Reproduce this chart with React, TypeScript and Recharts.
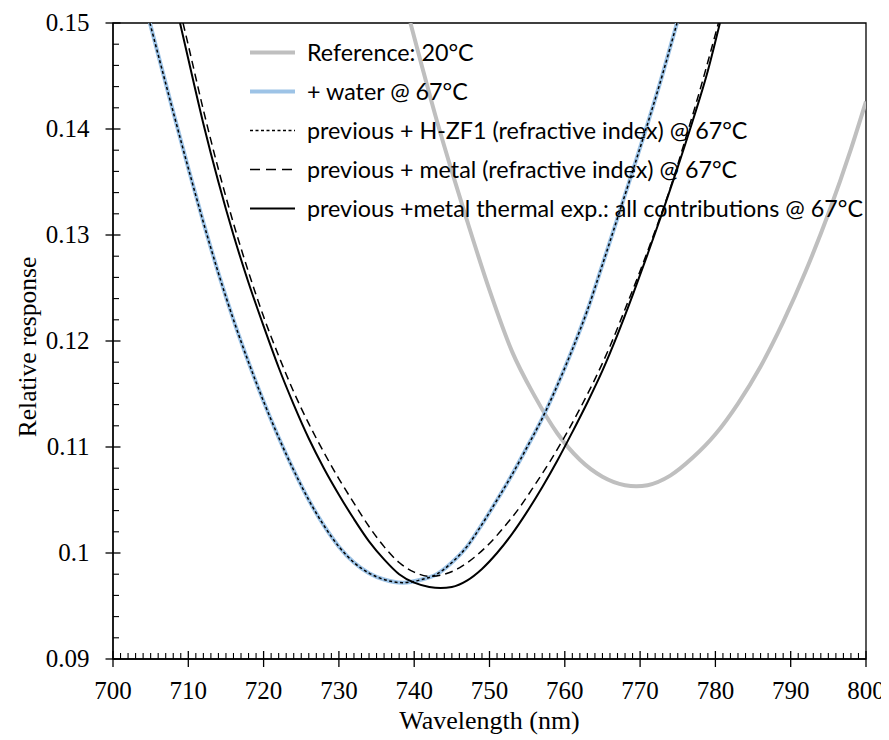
import React from 'react';
import { LineChart, Line, XAxis, YAxis, ReferenceArea, Legend } from 'recharts';

// ---- Data ----
const refWl = [739.5, 741, 743, 745, 747, 750, 753, 756, 759, 762, 765, 768, 769.5, 771, 774, 777, 780, 783, 786, 789, 792, 795, 798, 800];
const refVal = [0.15, 0.146, 0.1408, 0.136, 0.1314, 0.1248, 0.119, 0.1148, 0.1113, 0.1088, 0.1072, 0.1064, 0.1063, 0.1064, 0.1073, 0.109, 0.1112, 0.1141, 0.1176, 0.1218, 0.1266, 0.132, 0.1381, 0.1426];

const waterWl = [704.9, 706, 708, 710, 712, 714, 716, 718, 720, 722, 724, 726, 728, 730, 732, 734, 736, 738.5, 741, 743, 745, 747, 749, 751, 753, 755, 757, 759, 761, 763, 765, 767, 769, 771, 773, 774.9];
const waterVal = [0.15, 0.147, 0.1416, 0.1363, 0.1312, 0.1264, 0.122, 0.118, 0.1143, 0.1109, 0.1078, 0.105, 0.1026, 0.1006, 0.0991, 0.0981, 0.0975, 0.0972, 0.0975, 0.098, 0.0991, 0.1006, 0.1027, 0.105, 0.1074, 0.11, 0.1127, 0.1158, 0.1192, 0.1229, 0.1272, 0.1316, 0.136, 0.1405, 0.1452, 0.15];

const hzf1Wl = [704.9, 706, 708, 710, 712, 714, 716, 718, 720, 722, 724, 726, 728, 730, 732, 734, 736, 738.5, 741, 743, 745, 747, 749, 751, 753, 755, 757, 759, 761, 763, 765, 767, 769, 771, 773, 774.9];
const hzf1Val = [0.15, 0.147, 0.1416, 0.1363, 0.1312, 0.1264, 0.122, 0.118, 0.1143, 0.1109, 0.1078, 0.105, 0.1026, 0.1006, 0.0991, 0.0981, 0.0975, 0.0972, 0.0975, 0.098, 0.0991, 0.1006, 0.1027, 0.105, 0.1074, 0.11, 0.1127, 0.1158, 0.1192, 0.1229, 0.1272, 0.1316, 0.136, 0.1405, 0.1452, 0.15];

const metalWl = [709.3, 710, 712, 714, 716, 718, 720, 722, 724, 726, 728, 730, 732, 734, 736, 738, 740, 742, 744, 746, 748, 750, 752, 754, 756, 758, 760, 762, 764, 766, 768, 770, 772, 774, 776, 778, 780.4];
const metalVal = [0.15, 0.1479, 0.1418, 0.1362, 0.1311, 0.1265, 0.1223, 0.1186, 0.1152, 0.1122, 0.1095, 0.107, 0.1047, 0.1025, 0.1006, 0.0991, 0.0982, 0.0978, 0.098, 0.0986, 0.0996, 0.1009, 0.1025, 0.1043, 0.1064, 0.1086, 0.111, 0.1136, 0.1164, 0.1195, 0.123, 0.1266, 0.1304, 0.1344, 0.139, 0.1438, 0.15];

const allWl = [708.9, 710, 712, 714, 716, 718, 720, 722, 724, 726, 728, 730, 732, 734, 736, 738, 740, 742, 743.5, 745, 747, 749, 751, 753, 755, 757, 759, 761, 763, 765, 767, 769, 771, 773, 775, 777, 779, 780.6];
const allVal = [0.15, 0.1466, 0.1405, 0.135, 0.13, 0.1255, 0.1214, 0.1175, 0.114, 0.1108, 0.108, 0.1055, 0.1032, 0.1011, 0.0994, 0.098, 0.0972, 0.0968, 0.0967, 0.0968, 0.0974, 0.0985, 0.1, 0.1018, 0.1039, 0.1062, 0.1087, 0.1114, 0.1142, 0.1172, 0.1206, 0.1243, 0.1282, 0.1322, 0.1364, 0.1408, 0.1455, 0.15];

const xMajorTicks = [700, 710, 720, 730, 740, 750, 760, 770, 780, 790, 800];
const yMajorTicks = [0.09, 0.1, 0.11, 0.12, 0.13, 0.14, 0.15];
const legendLabels = [
  'Reference: 20°C',
  '+ water @ 67°C',
  'previous + H-ZF1 (refractive index) @ 67°C',
  'previous + metal (refractive index) @ 67°C',
  'previous +metal thermal exp.: all contributions @ 67°C',
];

// ---- layout ----
const W = 889;
const H = 732;
const PLOT_LEFT = 105;
const PLOT_TOP = 15;
const PLOT_BOTTOM = 651;
const SERIF = 'Liberation Serif';
const SANS = 'Lato';

const xTicksAll = Array.from({ length: 101 }, (_, i) => 700 + i);
const yTicksAll = Array.from({ length: 31 }, (_, i) => +(0.09 + i * 0.002).toFixed(3));

const toData = (wl: number[], val: number[]) => wl.map((x, i) => ({ x, y: val[i] }));
const refData = toData(refWl, refVal);
const waterData = toData(waterWl, waterVal);
const hzf1Data = toData(hzf1Wl, hzf1Val);
const metalData = toData(metalWl, metalVal);
const allData = toData(allWl, allVal);

const XTick = (props: any) => {
  const { x, payload } = props;
  const v = payload.value;
  const major = xMajorTicks.includes(v);
  if (major) {
    return (
      <g>
        <line x1={x} x2={x} y1={PLOT_BOTTOM - 8} y2={PLOT_BOTTOM + 8} stroke="#000" strokeWidth={1.3} />
        <text x={x} y={691} textAnchor="middle" fontFamily={SERIF} fontSize={25} fill="#000">
          {v}
        </text>
      </g>
    );
  }
  return <line x1={x} x2={x} y1={PLOT_BOTTOM - 6} y2={PLOT_BOTTOM} stroke="#000" strokeWidth={1.1} />;
};

const YTick = (props: any) => {
  const { y, payload } = props;
  const v = payload.value;
  const major = yMajorTicks.some((t) => Math.abs(t - v) < 1e-9);
  if (major) {
    return (
      <g>
        <line x1={PLOT_LEFT - 7.5} x2={PLOT_LEFT + 7.5} y1={y} y2={y} stroke="#000" strokeWidth={1.3} />
        <text x={81.5} y={y + 8.3} textAnchor="end" fontFamily={SERIF} fontSize={25} fill="#000">
          {String(v)}
        </text>
      </g>
    );
  }
  return <line x1={PLOT_LEFT} x2={PLOT_LEFT + 6} y1={y} y2={y} stroke="#000" strokeWidth={1.1} />;
};

const legendStyles = [
  { stroke: '#BFBFBF', width: 4, dash: undefined },
  { stroke: '#9DC3E6', width: 4, dash: undefined },
  { stroke: '#000', width: 1.5, dash: '3 2.5' },
  { stroke: '#000', width: 1.5, dash: '10 6' },
  { stroke: '#000', width: 2.2, dash: undefined },
];

const LegendContent = () => (
  <svg width={640} height={200} style={{ display: 'block', overflow: 'visible' }}>
    {legendLabels.map((label, i) => {
      const cy = 22.5 + i * 39;
      const s = legendStyles[i];
      return (
        <g key={label}>
          <line x1={12} x2={57} y1={cy} y2={cy} stroke={s.stroke} strokeWidth={s.width} strokeDasharray={s.dash} />
          <text x={69} y={cy + 8} fontFamily={SANS} fontSize={23.3} fill="#000">
            {label}
          </text>
        </g>
      );
    })}
  </svg>
);

const XLabel = () => (
  <text x={481.5} y={721} textAnchor="middle" fontFamily={SERIF} fontSize={26} fill="#000">
    Wavelength (nm)
  </text>
);

const YLabel = () => (
  <text x={19} y={339} transform="rotate(-90 19 339)" textAnchor="middle" dominantBaseline="central" fontFamily={SERIF} fontSize={25.5} fill="#000">
    Relative response
  </text>
);

export default function App() {
  return (
    <div style={{ width: W, height: H, background: '#fff' }}>
      <style>{'html, body { overflow: hidden; }'}</style>
      <LineChart width={W} height={H} margin={{ top: PLOT_TOP, right: 31, left: 0, bottom: 0 }}>
        <XAxis
          dataKey="x"
          type="number"
          domain={[700, 800]}
          ticks={xTicksAll}
          interval={0}
          tick={XTick}
          tickLine={false}
          axisLine={{ stroke: '#000', strokeWidth: 1.3 }}
          height={81}
          allowDataOverflow
          label={XLabel}
        />
        <YAxis
          type="number"
          domain={[0.09, 0.15]}
          ticks={yTicksAll}
          interval={0}
          tick={YTick}
          tickLine={false}
          axisLine={{ stroke: '#000', strokeWidth: 1.3 }}
          width={105}
          allowDataOverflow
          label={YLabel}
        />
        <ReferenceArea x1={700} x2={800} y1={0.09} y2={0.15} fill="none" fillOpacity={0} stroke="#000" strokeWidth={1.3} />
        <Legend layout="vertical" align="center" verticalAlign="middle" content={LegendContent} wrapperStyle={{ left: 230, top: 22, width: 640, height: 200 }} />
        <Line data={refData} dataKey="y" type="monotone" stroke="#BFBFBF" strokeWidth={4} dot={false} activeDot={false} isAnimationActive={false} />
        <Line data={waterData} dataKey="y" type="monotone" stroke="#9DC3E6" strokeWidth={4} dot={false} activeDot={false} isAnimationActive={false} />
        <Line data={hzf1Data} dataKey="y" type="monotone" stroke="#000" strokeWidth={1.5} strokeDasharray="3 2.5" dot={false} activeDot={false} isAnimationActive={false} />
        <Line data={metalData} dataKey="y" type="monotone" stroke="#000" strokeWidth={1.5} strokeDasharray="8 5" dot={false} activeDot={false} isAnimationActive={false} />
        <Line data={allData} dataKey="y" type="monotone" stroke="#000" strokeWidth={2} dot={false} activeDot={false} isAnimationActive={false} />
      </LineChart>
    </div>
  );
}
